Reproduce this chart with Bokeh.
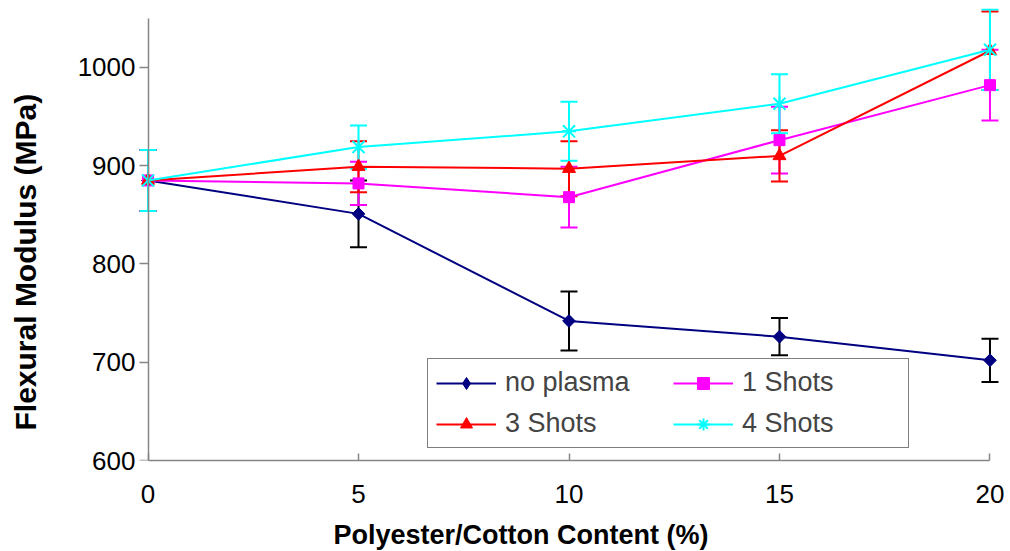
import math
from bokeh.plotting import figure
from bokeh.models import (ColumnDataSource, Whisker, TeeHead, FixedTicker, Legend,
                          LegendItem, Range1d, LinearAxis, Title)
from bokeh.embed import file_html
from bokeh.resources import INLINE

# ---- data ----
x_vals = [0, 5, 10, 15, 20]
x_ticks = [0, 5, 10, 15, 20]
y_ticks = [600, 700, 800, 900, 1000]

no_plasma = [885, 851, 742, 726, 702]
no_plasma_err = [31, 34, 30, 19, 22]
shots1 = [885, 882, 868, 926, 982]
shots1_err = [31, 22, 31, 34, 36]
shots3 = [885, 899, 897, 910, 1017]
shots3_err = [31, 26, 28, 26, 40]
shots4 = [885, 919, 935, 963, 1018]
shots4_err = [31, 22, 30, 30, 41]

labels = ["no plasma", "1 Shots", "3 Shots", "4 Shots"]
x_title = "Polyester/Cotton Content (%)"
y_title = "Flexural Modulus (MPa)"

FONT = "Liberation Sans"

p = figure(width=1008, height=551, output_backend="svg", toolbar_location=None,
           x_range=Range1d(-0.25, 20.25), y_range=Range1d(600, 1060),
           min_border_left=137, min_border_right=8, min_border_top=8,
           min_border_bottom=91)
p.outline_line_color = None
p.xgrid.visible = False
p.ygrid.visible = False
p.background_fill_color = "white"
p.border_fill_color = "white"

series = [
    dict(label=labels[0], y=no_plasma, e=no_plasma_err, color="#000080", ecolor="#000000",
         marker="diamond"),
    dict(label=labels[1], y=shots1, e=shots1_err, color="#FF00FF", ecolor="#FF00FF",
         marker="square"),
    dict(label=labels[2], y=shots3, e=shots3_err, color="#FF0000", ecolor="#FF0000",
         marker="triangle"),
    dict(label=labels[3], y=shots4, e=shots4_err, color="#00FFFF", ecolor="#00FFFF",
         marker="star"),
]

items = {}
for s in series:
    n = len(x_vals)
    src = ColumnDataSource(dict(
        x=x_vals, y=s["y"],
        upper=[v + e for v, e in zip(s["y"], s["e"])],
        lower=[v - e for v, e in zip(s["y"], s["e"])],
        # star = "x" plus a vertical stroke; the key entry (index 2) uses a cross,
        # whose horizontal arm is hidden under the key line
        vmark=["cross" if i == 2 else "dash" for i in range(n)],
        vangle=[0.0 if i == 2 else math.pi / 2 for i in range(n)],
    ))
    w = Whisker(source=src, base="x", upper="upper", lower="lower", dimension="height",
                line_color=s["ecolor"], line_width=2,
                upper_head=TeeHead(size=17, line_color=s["ecolor"], line_width=2),
                lower_head=TeeHead(size=17, line_color=s["ecolor"], line_width=2))
    p.add_layout(w)
    ln = p.line("x", "y", source=src, line_color=s["color"], line_width=2)
    rends = [ln]
    idx = None
    if s["marker"] == "star":
        xm = p.scatter("x", "y", source=src, marker="x", size=17,
                       line_color=s["color"], line_width=2)
        vm = p.scatter("x", "y", source=src, marker="vmark", size=14, angle="vangle",
                       line_color=s["color"], line_width=2)
        rends += [xm, vm]
        idx = 2
    elif s["marker"] == "diamond":
        # key diamond sits hidden under the rotated square in the plot
        lg = p.scatter("x", "y", source=src, marker="diamond", size=12,
                       fill_color=s["color"], line_color=s["color"])
        p.scatter("x", "y", source=src, marker="square", size=9, angle=math.pi / 4,
                  fill_color=s["color"], line_color=s["color"])
        rends.append(lg)
    else:
        m = p.scatter("x", "y", source=src, marker=s["marker"],
                      size=11 if s["marker"] == "square" else 13,
                      fill_color=s["color"], line_color=s["color"])
        rends.append(m)
    if idx is None:
        items[s["label"]] = LegendItem(label=s["label"], renderers=rends)
    else:
        items[s["label"]] = LegendItem(label=s["label"], renderers=rends, index=idx)


def spacer(px, tick):
    """Line-less axis with one white tick, used only as a fixed gap in a side panel."""
    a = LinearAxis(ticker=FixedTicker(ticks=[tick]))
    a.axis_line_color = None
    a.major_tick_line_color = "white"
    a.major_tick_line_width = 1
    a.minor_tick_line_color = None
    a.major_tick_in = 0
    a.major_tick_out = px
    a.major_label_standoff = 0
    a.major_label_overrides = {tick: " "}
    a.major_label_text_color = None
    a.major_label_text_font_size = "1px"
    return a


# axes
AX = "#868686"
p.xaxis.ticker = FixedTicker(ticks=x_ticks)
p.xaxis.bounds = (0, 20)
p.xaxis.axis_line_color = AX
p.xaxis.axis_line_width = 1.5
p.xaxis.major_tick_line_color = AX
p.xaxis.major_tick_line_width = 1.5
p.xaxis.minor_tick_line_color = None
p.xaxis.major_tick_in = 7
p.xaxis.major_tick_out = 0
p.xaxis.major_label_standoff = 24
p.xaxis.major_label_text_font = FONT
p.xaxis.major_label_text_font_size = "26px"
p.xaxis.major_label_text_color = "black"

# y axis line + ticks drawn at x = 0 (its own labels are not drawn)
ya = p.yaxis[0]
ya.ticker = FixedTicker(ticks=y_ticks)
ya.bounds = (600, 1050)
ya.fixed_location = 0
ya.axis_line_color = AX
ya.axis_line_width = 1.5
ya.major_tick_line_color = AX
ya.major_tick_line_width = 1.5
ya.minor_tick_line_color = None
ya.major_tick_in = 0
ya.major_tick_out = 9
ya.major_label_standoff = 0
ya.major_label_overrides = {t: " " for t in y_ticks}
ya.major_label_text_color = None

# y tick labels
yl = LinearAxis(ticker=FixedTicker(ticks=y_ticks))
yl.axis_line_color = None
yl.major_tick_line_color = None
yl.minor_tick_line_color = None
yl.major_tick_in = 0
yl.major_tick_out = 0
yl.major_label_standoff = 2
yl.major_label_text_font = FONT
yl.major_label_text_font_size = "26px"
yl.major_label_text_color = "black"
p.add_layout(yl, "left")

# titles placed like the reference (not centred on the frame)
p.add_layout(spacer(33, 600), "left")
p.add_layout(Title(text=y_title, align="left", offset=30, standoff=0,
                   text_font=FONT, text_font_size="30px", text_font_style="bold",
                   text_color="black"), "left")
p.add_layout(spacer(12, 0), "below")
p.add_layout(Title(text=x_title, align="left", offset=196, standoff=0,
                   text_font=FONT, text_font_size="27px", text_font_style="bold",
                   text_color="black"), "below")

legend = Legend(items=[items[l] for l in labels], ncols=2, orientation="horizontal",
                location=(290, 12),
                border_line_color="black", border_line_width=1,
                background_fill_color="white", background_fill_alpha=1.0,
                label_text_font=FONT, label_text_font_size="27px",
                glyph_width=60, glyph_height=30, label_standoff=9,
                label_width=158, spacing=10, padding=8)
p.add_layout(legend)

open("out.html", "w").write(file_html(p, INLINE))
